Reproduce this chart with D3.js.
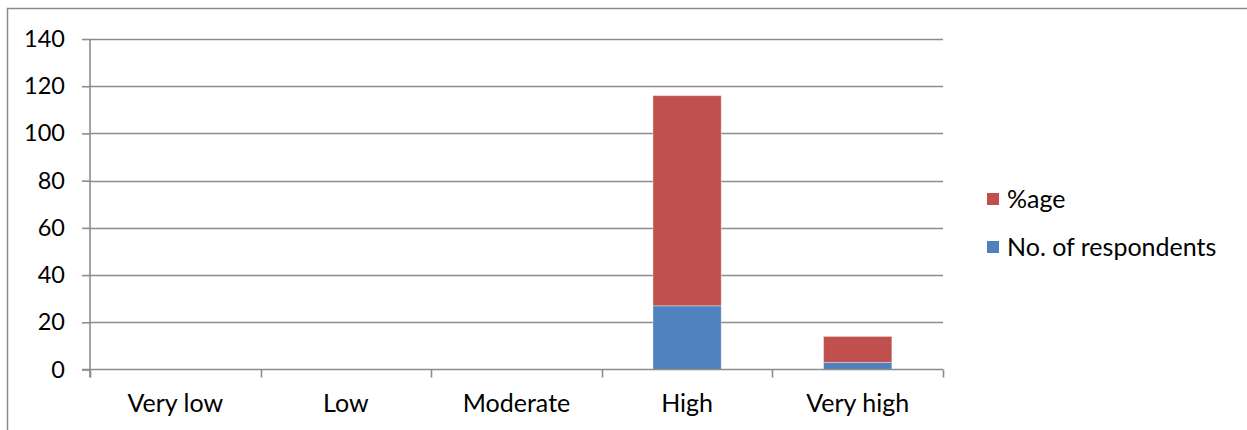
<!DOCTYPE html>
<html>
<head>
<meta charset="utf-8">
<script src="https://cdn.jsdelivr.net/npm/d3@7/dist/d3.min.js"></script>
<style>
  html, body { margin: 0; padding: 0; background: #fff; }
  svg { display: block; font-family: Lato, "Open Sans", sans-serif; }
</style>
</head>
<body>
<svg id="chart" width="1247" height="430"></svg>
<script>
// Rating categories along the x axis
const categories = ["Very low", "Low", "Moderate", "High", "Very high"];
// Stacked series, bottom to top
const respondents = [0, 0, 0, 27, 3];
const percentage = [0, 0, 0, 89, 11];
const seriesNames = ["No. of respondents", "%age"];
const seriesColors = ["#4F81BD", "#C0504D"];
const yTicks = [0, 20, 40, 60, 80, 100, 120, 140];

const svg = d3.select("#chart");
const W = 1247, H = 430;

// Outer frame of the chart area
svg.append("rect")
  .attr("x", 7.5).attr("y", 8.5)
  .attr("width", W + 20).attr("height", H + 20)
  .attr("fill", "#fff")
  .attr("stroke", "#8a8a8a")
  .attr("stroke-width", 1.5);

const plot = { left: 90, right: 943, top: 39, bottom: 369.5 };

const x = d3.scaleBand()
  .domain(categories)
  .range([plot.left, plot.right])
  .paddingInner(0.6)
  .paddingOuter(0.3);

const xEdge = d3.scaleLinear()
  .domain([0, categories.length])
  .range([plot.left, plot.right]);

const y = d3.scaleLinear()
  .domain([0, 140])
  .range([plot.bottom, plot.top]);

const gridColor = "#8c8c8c";

// Horizontal gridlines
svg.append("g")
  .selectAll("line")
  .data(yTicks.filter(v => v > 0))
  .join("line")
  .attr("x1", plot.left).attr("x2", plot.right)
  .attr("y1", d => Math.round(y(d)) + 0.5)
  .attr("y2", d => Math.round(y(d)) + 0.5)
  .attr("stroke", gridColor)
  .attr("stroke-width", 1.6);

// Stacked bars
const rows = categories.map((c, i) => ({
  category: c,
  "No. of respondents": respondents[i],
  "%age": percentage[i]
}));
const stacked = d3.stack().keys(seriesNames)(rows);

svg.append("g")
  .selectAll("g")
  .data(stacked)
  .join("g")
  .attr("fill", (d, i) => seriesColors[i])
  .selectAll("rect")
  .data(d => d.filter(p => p[1] - p[0] > 0))
  .join("rect")
  .attr("x", d => x(d.data.category))
  .attr("width", x.bandwidth())
  .attr("y", d => y(d[1]))
  .attr("height", d => y(d[0]) - y(d[1]))
  .attr("stroke", "rgba(255,255,255,0.35)")
  .attr("stroke-width", 1);

// Y axis
const yAxis = d3.axisLeft(y)
  .tickValues(yTicks)
  .tickSize(8)
  .tickPadding(17);
const gy = svg.append("g")
  .attr("transform", `translate(${plot.left},0)`)
  .call(yAxis);
gy.select(".domain").remove();
gy.append("line")
  .attr("x1", 0).attr("x2", 0)
  .attr("y1", plot.top).attr("y2", plot.bottom + 8)
  .attr("stroke", gridColor).attr("stroke-width", 1.6);
gy.selectAll(".tick line").attr("stroke", gridColor).attr("stroke-width", 1.6);
gy.selectAll(".tick text")
  .attr("font-size", 23.5)
  .attr("fill", "#000")
  .attr("font-family", "Lato, sans-serif");

// X axis with ticks at category boundaries
const gx = svg.append("g");
gx.append("line")
  .attr("x1", plot.left - 8).attr("x2", plot.right)
  .attr("y1", plot.bottom).attr("y2", plot.bottom)
  .attr("stroke", gridColor).attr("stroke-width", 1.6);
gx.selectAll("line.edge")
  .data(d3.range(categories.length + 1))
  .join("line")
  .attr("class", "edge")
  .attr("x1", d => Math.round(xEdge(d)) + 0.5)
  .attr("x2", d => Math.round(xEdge(d)) + 0.5)
  .attr("y1", plot.bottom).attr("y2", plot.bottom + 8)
  .attr("stroke", gridColor).attr("stroke-width", 1.6);
gx.selectAll("text")
  .data(categories)
  .join("text")
  .attr("x", d => x(d) + x.bandwidth() / 2)
  .attr("y", 412)
  .attr("text-anchor", "middle")
  .attr("font-size", 25)
  .attr("fill", "#000")
  .text(d => d);

// Legend (top series listed first)
const legendItems = [
  { name: "%age", color: seriesColors[1], y: 199 },
  { name: "No. of respondents", color: seriesColors[0], y: 247 }
];
const lg = svg.append("g");
lg.selectAll("rect")
  .data(legendItems)
  .join("rect")
  .attr("x", 987)
  .attr("y", d => d.y - 6)
  .attr("width", 12).attr("height", 12)
  .attr("fill", d => d.color);
lg.selectAll("text")
  .data(legendItems)
  .join("text")
  .attr("x", 1007)
  .attr("y", d => d.y + 8.5)
  .attr("font-size", 25)
  .attr("fill", "#000")
  .text(d => d.name);
</script>
</body>
</html>
